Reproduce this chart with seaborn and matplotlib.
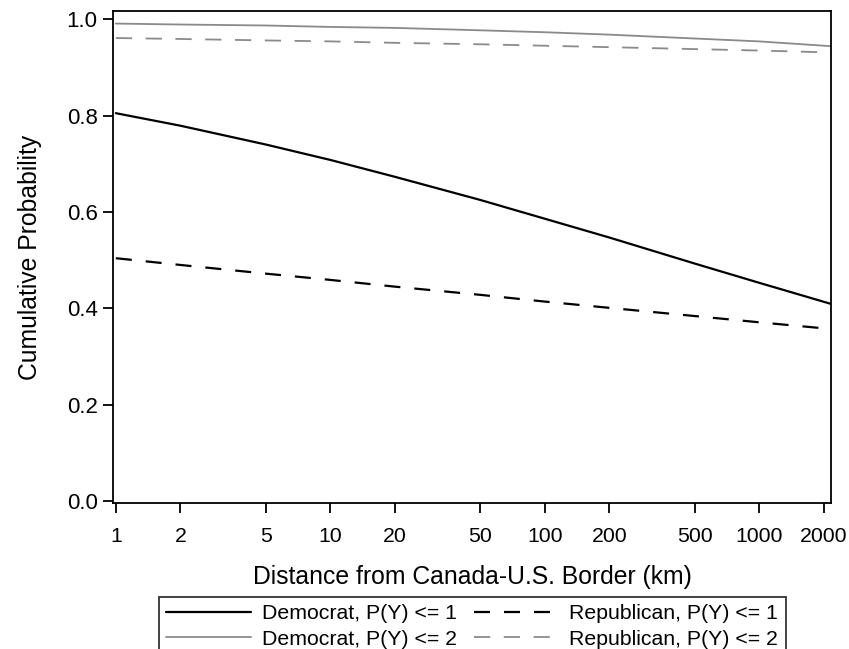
import pandas as pd
import matplotlib.pyplot as plt
import matplotlib.ticker as mticker
import seaborn as sns

# Valores (probabilidad acumulada vs distancia en km)
distance_km = [1, 2, 5, 10, 20, 50, 100, 200, 500, 1000, 2170]
dem_p1 = [0.805, 0.779, 0.740, 0.708, 0.673, 0.625, 0.586, 0.547, 0.493, 0.453, 0.409]
dem_p2 = [0.991, 0.989, 0.987, 0.984, 0.982, 0.977, 0.973, 0.968, 0.960, 0.954, 0.944]
rep_p1 = [0.504, 0.490, 0.472, 0.459, 0.445, 0.428, 0.414, 0.401, 0.384, 0.371, 0.357]
rep_p2 = [0.961, 0.959, 0.956, 0.954, 0.951, 0.948, 0.945, 0.942, 0.938, 0.935, 0.931]

series_names = ['Democrat, P(Y) <= 1', 'Democrat, P(Y) <= 2',
                'Republican, P(Y) <= 1', 'Republican, P(Y) <= 2']
x_ticks = [1, 2, 5, 10, 20, 50, 100, 200, 500, 1000, 2000]
y_ticks = [0.0, 0.2, 0.4, 0.6, 0.8, 1.0]

rows = []
for name, vals in zip(series_names, [dem_p1, dem_p2, rep_p1, rep_p2]):
    for d, p in zip(distance_km, vals):
        rows.append({'Distance': d, 'Probability': p, 'Series': name})
df = pd.DataFrame(rows)

styles = {
    'Democrat, P(Y) <= 1': dict(color='black', lw=1.6, dash=None),
    'Democrat, P(Y) <= 2': dict(color='#8a8a8a', lw=1.3, dash=None),
    'Republican, P(Y) <= 1': dict(color='black', lw=1.6, dash=(7.2, 6.3)),
    'Republican, P(Y) <= 2': dict(color='#8a8a8a', lw=1.3, dash=(9, 7.5)),
}

sns.set_style('ticks')
plt.rcParams['font.family'] = ['Liberation Sans', 'DejaVu Sans']
plt.rcParams['text.color'] = 'black'
plt.rcParams['axes.labelcolor'] = 'black'

fig = plt.figure(figsize=(8.49, 6.49), dpi=100)
ax = fig.add_axes([0.1331, 0.225, 0.846, 0.758])

handles = []
for name in series_names:
    st = styles[name]
    sub = df[df['Series'] == name]
    sns.lineplot(data=sub, x='Distance', y='Probability', ax=ax,
                 color=st['color'], linewidth=st['lw'], label=name)
    line = ax.lines[-1]
    if st['dash'] is not None:
        line.set_dashes(st['dash'])
    handles.append(line)
if ax.get_legend() is not None:
    ax.get_legend().remove()

ax.set_xscale('log')
ax.set_xlim(0.97, 2170)
ax.set_ylim(-0.004, 1.017)
ax.set_xticks(x_ticks)
ax.xaxis.set_major_formatter(mticker.FuncFormatter(lambda v, p: f'{v:g}'))
ax.xaxis.set_minor_locator(mticker.NullLocator())
ax.set_yticks(y_ticks)
ax.yaxis.set_major_formatter(mticker.FormatStrFormatter('%.1f'))

for sp in ax.spines.values():
    sp.set_linewidth(1.3)
    sp.set_color('black')
ax.tick_params(axis='both', direction='out', length=7, width=1.3,
               colors='black', pad=4)
ax.tick_params(axis='y', labelsize=16)
ax.tick_params(axis='x', labelsize=15.3, pad=10)

ax.set_xlabel('Distance from Canada-U.S. Border (km)', fontsize=17.8, labelpad=14)
ax.set_ylabel('Cumulative Probability', fontsize=17.8, labelpad=18)

leg = fig.legend(handles, series_names, ncol=2, loc='upper center',
                 bbox_to_anchor=(0.556, 0.0802), frameon=True, fancybox=False,
                 fontsize=15.3, handlelength=4.0, columnspacing=0.8,
                 handletextpad=0.5, borderpad=0.35, labelspacing=0.3,
                 borderaxespad=0)
leg.get_frame().set_edgecolor('black')
leg.get_frame().set_linewidth(1.3)

fig.savefig('out.png', dpi=100)
